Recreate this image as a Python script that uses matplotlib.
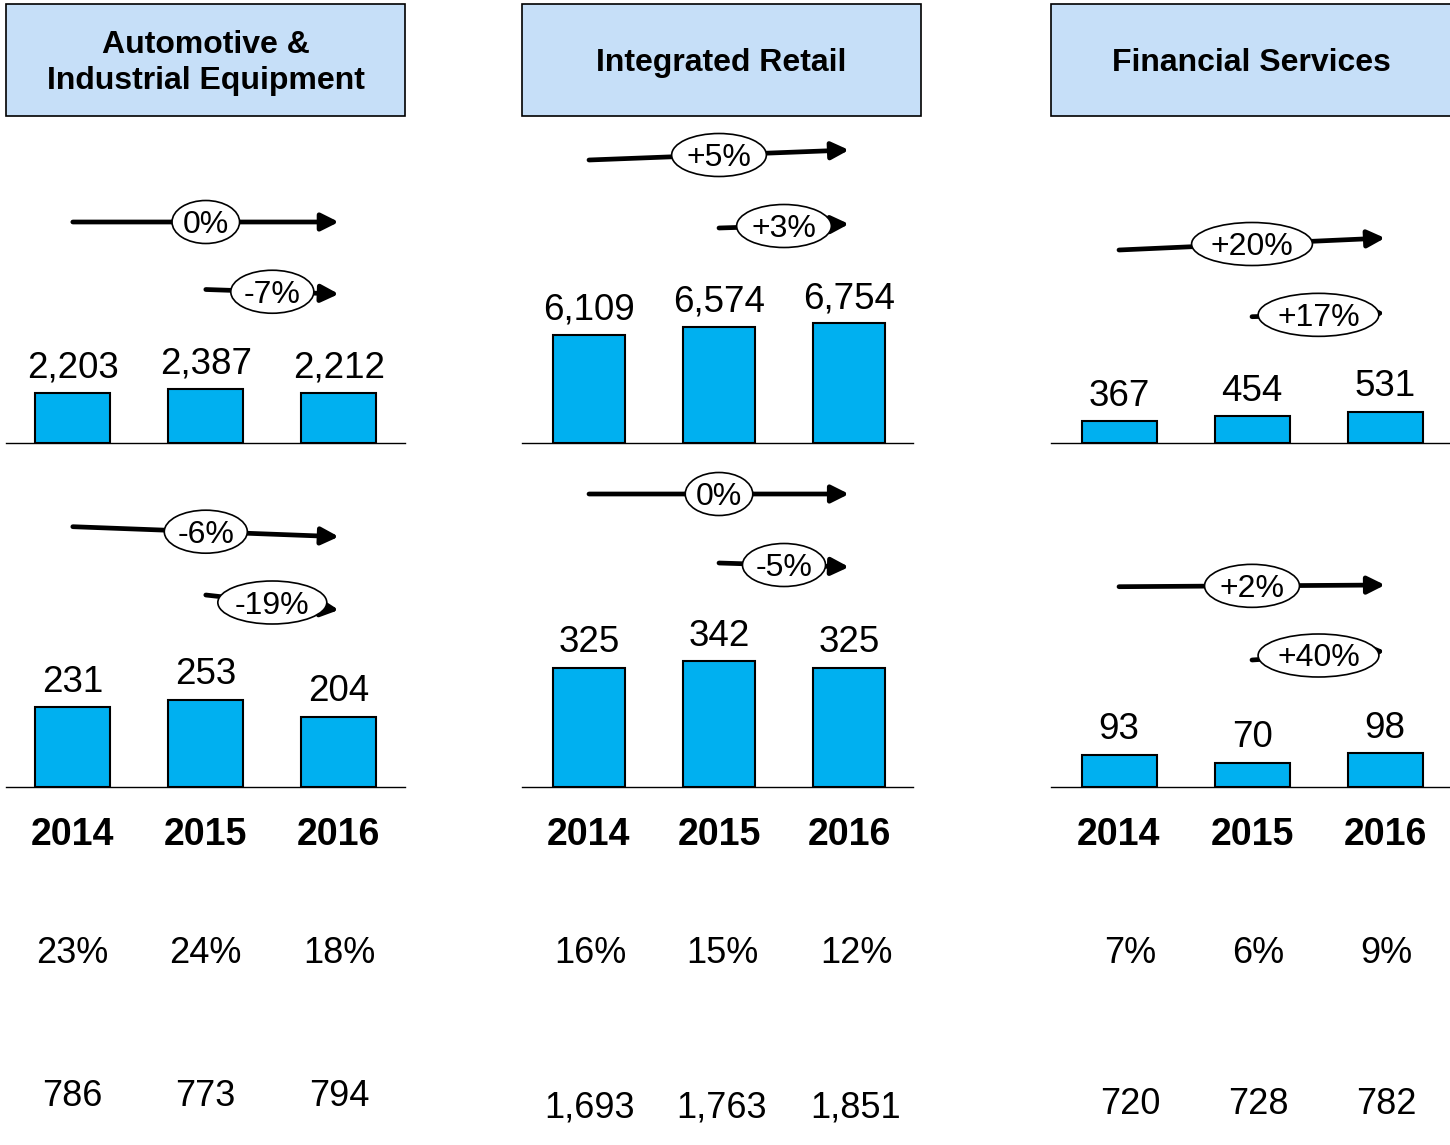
import matplotlib.pyplot as plt
from matplotlib.patches import Ellipse, Rectangle

plt.rcParams['font.family'] = ['Liberation Sans', 'DejaVu Sans']

# data
segments = ['Automotive &\nIndustrial Equipment', 'Integrated Retail', 'Financial Services']
years = ['2014', '2015', '2016']
revenue = [[2203, 2387, 2212], [6109, 6574, 6754], [367, 454, 531]]
ebit = [[231, 253, 204], [325, 342, 325], [93, 70, 98]]
revenue_cagr = [['0%', '-7%'], ['+5%', '+3%'], ['+20%', '+17%']]
ebit_cagr = [['-6%', '-19%'], ['0%', '-5%'], ['+2%', '+40%']]
margin = [[23, 24, 18], [16, 15, 12], [7, 6, 9]]
employees = [[786, 773, 794], [1693, 1763, 1851], [720, 728, 782]]

# layout (pixels)
W, H = 1450, 1145
box_left = [6, 522, 1051]
box_w = [399, 399, 401]
base_left = [6, 522, 1051]
base_right = [405, 913, 1450]
first_center = [72.8, 589, 1119]
spacing = [133, 130, 133]
bar_px = [75, 72, 75]
top_base, bot_base, ax_h = 443, 787, 200
top_scale = [44.1, 56.5, 16.9]
bot_scale = [2.9, 2.72, 2.87]
table_x = [[72, 205, 339], [590, 722, 856], [1130, 1258, 1386]]
emp_base = [1106, 1118, 1114]
arrow_y_top = [[(222, 222), (289.5, 294)], [(160, 150), (228, 224)], [(250, 238), (316.7, 313)]]
arrow_y_bot = [[(526.7, 536.7), (595, 610)], [(494, 494), (563, 567)], [(586.7, 585), (660, 651)]]

bar_color = '#00B0F0'
head_color = '#C6DFF8'

fig = plt.figure(figsize=(W / 100, H / 100), dpi=100)
renderer = fig.canvas.get_renderer()


def bar_panel(c, base_y, values, scale):
    left, right = base_left[c], base_right[c]
    ax = fig.add_axes([left / W, 1 - base_y / H, (right - left) / W, ax_h / H])
    ax.bar(range(3), values, width=bar_px[c] / spacing[c], color=bar_color,
           edgecolor='black', linewidth=1.5, zorder=2)
    ax.set_xlim((left - first_center[c]) / spacing[c], (right - first_center[c]) / spacing[c])
    ax.set_ylim(0, scale * ax_h)
    for i, v in enumerate(values):
        ax.annotate(f'{v:,}', (i, v), xytext=(0, 11), textcoords='offset points',
                    ha='center', va='baseline', fontsize=26.5)
    for s in ['top', 'left', 'right']:
        ax.spines[s].set_visible(False)
    ax.spines['bottom'].set_linewidth(1.0)
    ax.set_xticks([])
    ax.set_yticks([])
    ax.patch.set_alpha(0)


for c in range(3):
    bar_panel(c, top_base, revenue[c], top_scale[c])
    bar_panel(c, bot_base, ebit[c], bot_scale[c])

ov = fig.add_axes([0, 0, 1, 1])
ov.set_xlim(0, W)
ov.set_ylim(H, 0)
ov.axis('off')


def cagr(x0, y0, x1, y1, label):
    ov.annotate('', xy=(x1, y1), xytext=(x0, y0),
                arrowprops=dict(arrowstyle='-|>', color='black', lw=3.4,
                                mutation_scale=26, shrinkA=0, shrinkB=0), zorder=2)
    xm, ym = (x0 + x1) / 2, (y0 + y1) / 2
    t = ov.text(xm, ym + 11, label, fontsize=23, ha='center', va='baseline', zorder=4)
    w = t.get_window_extent(renderer=renderer).width * 1.46
    ov.add_patch(Ellipse((xm, ym), w, 43, facecolor='white', edgecolor='black', lw=1.2, zorder=3))


for c in range(3):
    ov.add_patch(Rectangle((box_left[c], 4), box_w[c], 112, facecolor=head_color,
                           edgecolor='black', lw=1.2, clip_on=False))
    ov.text(box_left[c] + box_w[c] / 2, 63, segments[c], ha='center', va='center',
            fontsize=23, fontweight='bold', linespacing=1.3)
    centers = [first_center[c] + i * spacing[c] for i in range(3)]
    for arrows, labels in [(arrow_y_top[c], revenue_cagr[c]), (arrow_y_bot[c], ebit_cagr[c])]:
        (ly0, ly1), (sy0, sy1) = arrows
        cagr(centers[0], ly0, centers[2], ly1, labels[0])
        cagr(centers[1], sy0, centers[2], sy1, labels[1])
    for i in range(3):
        ov.text(centers[i], 845, years[i], ha='center', va='baseline', fontsize=27, fontweight='bold')
        ov.text(table_x[c][i], 963, f'{margin[c][i]}%', ha='center', va='baseline', fontsize=26)
        ov.text(table_x[c][i], emp_base[c], f'{employees[c][i]:,}', ha='center', va='baseline', fontsize=26)

fig.savefig('out.png', dpi=100)
